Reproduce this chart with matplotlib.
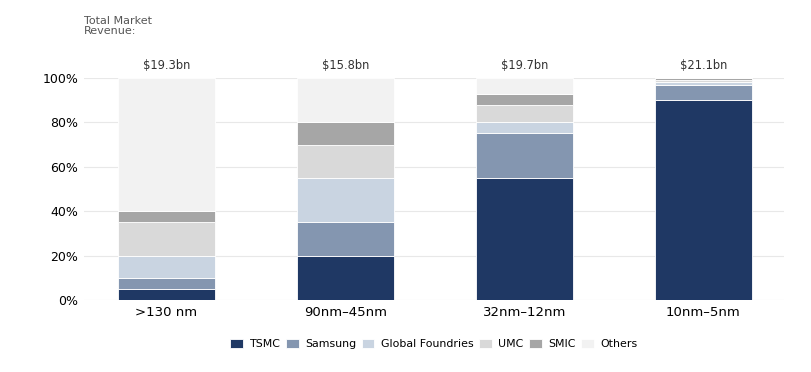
import matplotlib.pyplot as plt
import numpy as np

nodes = ['>130 nm', '90nm–45nm', '32nm–12nm', '10nm–5nm']
revenue = ['$19.3bn', '$15.8bn', '$19.7bn', '$21.1bn']

companies = ['TSMC', 'Samsung', 'Global Foundries', 'UMC', 'SMIC', 'Others']
tsmc = [5, 20, 55, 90]
samsung = [5, 15, 20, 7]
globalfoundries = [10, 20, 5, 1]
umc = [15, 15, 8, 1]
smic = [5, 10, 5, 1]
others = [60, 20, 7, 0]

colors = ['#1f3864', '#8496b0', '#c9d4e1', '#d9d9d9', '#a6a6a6', '#f2f2f2']
shares = [tsmc, samsung, globalfoundries, umc, smic, others]

fig = plt.figure(figsize=(8.12, 3.72), dpi=100)
ax = fig.add_axes([84 / 812, 1 - 300 / 372, 700 / 812, 222 / 372])

x = np.arange(len(nodes))
bottom = np.zeros(len(nodes))
for name, vals, c in zip(companies, shares, colors):
    ax.bar(x, vals, 0.54, bottom=bottom, color=c, label=name,
           edgecolor='white', linewidth=0.6, zorder=2)
    bottom += np.array(vals)

for xi, r in zip(x, revenue):
    ax.text(xi, 102.5, r, ha='center', va='bottom', fontsize=8.3, color='#333333')

fig.text(84 / 812, 1 - 16 / 372, 'Total Market\nRevenue:', ha='left', va='top',
         fontsize=8, color='#555555', linespacing=0.95)

ax.set_xlim(-0.46, 3.45)
ax.set_ylim(0, 100)
ax.set_yticks([0, 20, 40, 60, 80, 100])
ax.set_yticklabels([f'{v}%' for v in [0, 20, 40, 60, 80, 100]], fontsize=9)
ax.set_xticks(x)
ax.set_xticklabels(nodes, fontsize=9.5)
ax.tick_params(length=0, pad=4)
ax.grid(axis='y', color='#e8e8e8', linewidth=0.8, zorder=0)
for s in ax.spines.values():
    s.set_visible(False)

ax.legend(loc='upper center', bbox_to_anchor=(0.5, -0.13), ncol=6, frameon=False,
          fontsize=7.9, handlelength=1.15, handleheight=0.9, columnspacing=0.5,
          handletextpad=0.6)

plt.savefig('out.png', dpi=100)
